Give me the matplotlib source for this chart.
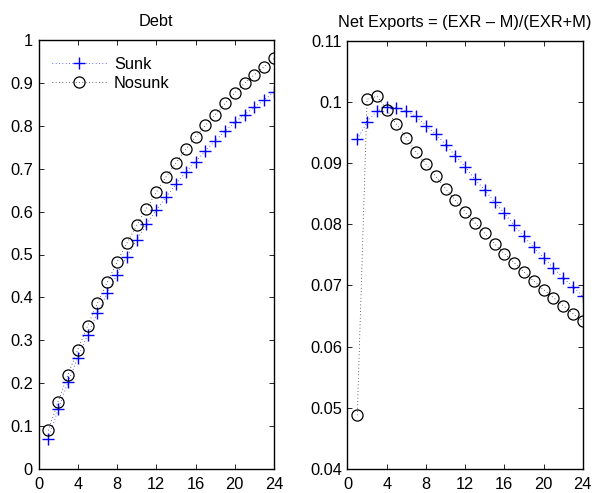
import matplotlib
matplotlib.use("Agg")
import matplotlib.pyplot as plt

plt.rcParams['font.family'] = ['Liberation Sans', 'DejaVu Sans']

periods = list(range(1, 25))

debt_sunk = [0.071, 0.139, 0.202, 0.259, 0.313, 0.363, 0.410, 0.453, 0.495, 0.534,
             0.570, 0.603, 0.634, 0.664, 0.692, 0.716, 0.741, 0.765, 0.787, 0.808,
             0.826, 0.843, 0.861, 0.878]
debt_nosunk = [0.090, 0.157, 0.220, 0.278, 0.334, 0.386, 0.435, 0.482, 0.526, 0.568,
               0.607, 0.645, 0.681, 0.713, 0.745, 0.774, 0.801, 0.826, 0.852, 0.877,
               0.899, 0.919, 0.938, 0.957]

nx_sunk = [0.0939, 0.0967, 0.0985, 0.0991, 0.0990, 0.0985, 0.0976, 0.0961, 0.0947, 0.0930,
           0.0912, 0.0894, 0.0873, 0.0856, 0.0836, 0.0818, 0.0798, 0.0780, 0.0762, 0.0745,
           0.0729, 0.0712, 0.0698, 0.0682]
nx_nosunk = [0.0488, 0.1004, 0.1009, 0.0987, 0.0963, 0.0941, 0.0918, 0.0898, 0.0878, 0.0858,
             0.0839, 0.0820, 0.0802, 0.0785, 0.0768, 0.0752, 0.0737, 0.0722, 0.0707, 0.0693,
             0.0680, 0.0667, 0.0654, 0.0642]

x_ticks = [0, 4, 8, 12, 16, 20, 24]
debt_ticks = [0, 0.1, 0.2, 0.3, 0.4, 0.5, 0.6, 0.7, 0.8, 0.9, 1]
debt_labels = ["0", "0.1", "0.2", "0.3", "0.4", "0.5", "0.6", "0.7", "0.8", "0.9", "1"]
nx_ticks = [0.04, 0.05, 0.06, 0.07, 0.08, 0.09, 0.10, 0.11]
nx_labels = ["0.04", "0.05", "0.06", "0.07", "0.08", "0.09", "0.1", "0.11"]

W, H = 597, 493
fig = plt.figure(figsize=(W / 100, H / 100), dpi=100)

FS = 11.8


def place(x0, y0, x1, y1):
    return fig.add_axes([x0 / W, 1 - y1 / H, (x1 - x0) / W, (y1 - y0) / H])


def style(ax):
    for s in ax.spines.values():
        s.set_linewidth(1.0)
    ax.tick_params(direction='in', length=3.5, width=0.6, top=True, right=True,
                   labelsize=FS, pad=4)
    ax.tick_params(axis='x', pad=6)


def draw(ax, ya, yb):
    ax.plot(periods, ya, linestyle=(0, (0.8, 3.2)), color='#0000ff', linewidth=0.6,
            marker='+', markersize=9, markeredgewidth=1.0, label='Sunk')
    ax.plot(periods, yb, linestyle=(0, (0.8, 3.2)), color='black', linewidth=0.6,
            marker='o', markersize=8, markerfacecolor='none', markeredgewidth=0.9,
            label='Nosunk')


ax1 = place(38.5, 40, 274, 469)
draw(ax1, debt_sunk, debt_nosunk)
ax1.set_xlim(0, 24)
ax1.set_ylim(0, 1)
ax1.set_xticks(x_ticks)
ax1.set_yticks(debt_ticks)
ax1.set_yticklabels(debt_labels)
ax1.set_title("Debt", fontsize=FS, pad=10)
style(ax1)
ax1.legend(loc='upper left', frameon=False, fontsize=FS, handlelength=3.4,
           handletextpad=0.4, labelspacing=0.25, borderaxespad=0.4,
           bbox_to_anchor=(0.0, 1.0 - 3.5 / 429))

ax2 = place(347.5, 40.5, 582.7, 469)
draw(ax2, nx_sunk, nx_nosunk)
ax2.set_xlim(0, 24)
ax2.set_ylim(0.04, 0.11)
ax2.set_xticks(x_ticks)
ax2.set_yticks(nx_ticks)
ax2.set_yticklabels(nx_labels)
ax2.set_title("Net Exports = (EXR \u2013 M)/(EXR+M)", fontsize=FS, pad=10)
style(ax2)

fig.savefig("out.png", dpi=100, facecolor='white')
